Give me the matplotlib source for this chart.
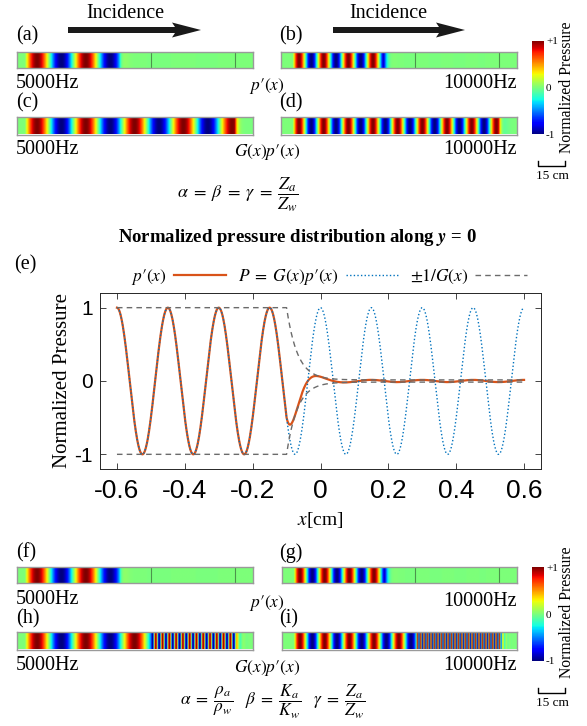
import numpy as np
import matplotlib
matplotlib.use("Agg")
import matplotlib.pyplot as plt
from matplotlib.patches import Polygon
from matplotlib.lines import Line2D
from matplotlib.cm import ScalarMappable
from matplotlib.colors import Normalize

plt.rcParams['font.family'] = ['Liberation Serif', 'DejaVu Serif']
plt.rcParams['mathtext.fontset'] = 'stix'
plt.rcParams['axes.unicode_minus'] = False

W, H = 587, 726

# ---------------- pressure strips (position along strip, cm) ----------------
strip_length = 130.0
freq_labels = ['5000Hz', '10000Hz']
wavelength_air = [26.9, 13.6]        # cm
wave_start = [4.3, 6.5]              # cm, where the incident wave begins
pprime_cut = 56.5                    # cm, end of the p'(x) wave region
layer_bounds = [74.0, 120.0]         # cm, second layer / absorbing end
layer_wavelength_ratio = 7.2         # wavelength shrink inside second layer
edge_decay = 1.5                     # cm

# ---------------- pressure along y = 0 ----------------
x_range = [-0.6, 0.6]
wavelength_line = 0.15
interface_x = -0.1
env_decay = 0.032
env_floor = 0.015
xticks = [-0.6, -0.4, -0.2, 0, 0.2, 0.4, 0.6]
xtick_labels = ['-0.6', '-0.4', '-0.2', '0', '0.2', '0.4', '0.6']
yticks = [-1, 0, 1]
ytick_labels = ['-1', '0', '1']
legend_labels = [r"$p\prime(x)$", r"$P\;=\;G(x)p\prime(x)$", r"$\pm1/G(x)$"]
c_orange, c_blue, c_gray = '#D95319', '#0072BD', '#6b6b6b'

fig = plt.figure(figsize=(W / 100, H / 100), dpi=100)


def px_axes(x0, y0, x1, y1):
    return fig.add_axes([x0 / W, 1 - y1 / H, (x1 - x0) / W, (y1 - y0) / H])


def ftext(x, y, s, **kw):
    kw.setdefault('va', 'center')
    return fig.text(x / W, 1 - y / H, s, **kw)


def fpt(x, y):
    return (x / W, 1 - y / H)


# ---- strip fields ----
s = np.linspace(0, strip_length, 1600)


def incident(i):
    k = 2 * np.pi / wavelength_air[i]
    f = np.where(s >= wave_start[i], np.sin(k * (s - wave_start[i])), 0.0)
    return f, k


def tail(pos, f):
    return np.where(s > pos, f * np.exp(-(s - pos) / edge_decay), f)


def field_pprime(i):
    f, _ = incident(i)
    return tail(pprime_cut, f)


def field_gp(i):
    f, _ = incident(i)
    return tail(layer_bounds[1], f)


def field_layered(i):
    f, k = incident(i)
    k2 = k * layer_wavelength_ratio
    ph0 = k * (layer_bounds[0] - wave_start[i])
    f2 = np.sin(ph0 + k2 * (s - layer_bounds[0]))
    f = np.where(s >= layer_bounds[0], f2, f)
    return tail(layer_bounds[1], f)


def strip(box, data, bounds=False):
    ax = px_axes(*box)
    ax.imshow(data[None, :], cmap='jet', vmin=-1, vmax=1, aspect='auto',
              extent=[0, strip_length, 0, 1], interpolation='bilinear')
    if bounds:
        for b in layer_bounds:
            ax.axvline(b, color='#4c944c', lw=0.8)
    ax.set_xticks([])
    ax.set_yticks([])
    for sp in ax.spines.values():
        sp.set_color('#9a9a9a')
        sp.set_linewidth(1.0)
    return ax


def colorbar(box, label_y):
    cax = px_axes(*box)
    sm = ScalarMappable(norm=Normalize(-1, 1), cmap='jet')
    cb = fig.colorbar(sm, cax=cax, ticks=[-1, 0, 1])
    cb.outline.set_visible(False)
    cb.ax.set_yticklabels(['-1', '0', '+1'])
    cb.ax.tick_params(length=0, pad=1.5, labelsize=8)
    ftext(567, label_y, 'Normalized Pressure', rotation=90, ha='center',
          fontsize=11.3)


def scale_bar(y_bar, y_text):
    x0, x1 = 538, 565
    pts = [fpt(x0, y_bar - 5), fpt(x0, y_bar), fpt(x1, y_bar), fpt(x1, y_bar - 5)]
    fig.add_artist(Line2D([p[0] for p in pts], [p[1] for p in pts],
                          transform=fig.transFigure, color='black', lw=1.0))
    ftext((x0 + x1) / 2 + 1, y_text, '15 cm', ha='center', fontsize=9.5)


def arrow(x0, x1, y):
    hl, hw, sw = 26, 7.5, 3
    verts = [(x0, y - sw), (x1 - hl, y - sw), (x1 - hl - 3, y - hw), (x1, y),
             (x1 - hl - 3, y + hw), (x1 - hl, y + sw), (x0, y + sw)]
    fig.add_artist(Polygon([fpt(*v) for v in verts], closed=True,
                           transform=fig.transFigure, facecolor='#1a1a1a',
                           edgecolor='none'))


# ---------------- top block ----------------
ftext(125, 14, 'Incidence', ha='center', fontsize=14.5)
ftext(388, 14, 'Incidence', ha='center', fontsize=14.5)
arrow(68, 201, 30)
arrow(333, 465, 30)

strip((17.3, 51.7, 253, 68.3), field_pprime(0), bounds=True)
strip((281, 51.7, 516.7, 68.3), field_pprime(1), bounds=True)
strip((17.3, 117.3, 253, 134.5), field_gp(0))
strip((281, 117.3, 516.7, 134.5), field_gp(1))

ftext(16, 36, '(a)', fontsize=14.5)
ftext(279, 36, '(b)', fontsize=14.5)
ftext(16, 103, '(c)', fontsize=14.5)
ftext(279, 103, '(d)', fontsize=14.5)
ftext(16, 83, freq_labels[0], fontsize=14.5)
ftext(517, 84, freq_labels[1], ha='right', fontsize=14.5)
ftext(16, 149, freq_labels[0], fontsize=14.5)
ftext(517, 149, freq_labels[1], ha='right', fontsize=14.5)
ftext(267, 86, r"$p\prime(x)$", ha='center', fontsize=12.5)
ftext(267, 152, r"$G(x)p\prime(x)$", ha='center', fontsize=12.5)
ftext(238, 195, r"$\alpha\;=\;\beta\;=\;\gamma\;=\;\dfrac{Z_a}{Z_w}$",
      ha='center', fontsize=13)

colorbar((531.7, 40.7, 544, 134.3), 87)
scale_bar(166, 176)

# ---------------- middle line chart ----------------
x = np.linspace(x_range[0], x_range[1], 2401)
p_prime = np.cos(2 * np.pi * x / wavelength_line)
envelope = np.where(x < interface_x, 1.0,
                    env_floor + (1 - env_floor) *
                    np.exp(-(x - interface_x) / env_decay))
P = envelope * p_prime

ax = px_axes(100, 293, 541, 469)
h_or, = ax.plot(x, P, color=c_orange, lw=1.6)
h_bl, = ax.plot(x, p_prime, color=c_blue, lw=1.0, ls=(0, (1, 1.6)))
h_gr, = ax.plot(x, envelope, color=c_gray, lw=1.0, ls=(0, (4, 3)))
ax.plot(x, -envelope, color=c_gray, lw=1.0, ls=(0, (4, 3)))
ax.set_xlim(-0.65, 0.65)
ax.set_ylim(-1.2, 1.2)
ax.set_xticks(xticks)
ax.set_xticklabels(xtick_labels, family='Liberation Sans', fontsize=19)
ax.set_yticks(yticks)
ax.set_yticklabels(ytick_labels, family='Liberation Sans', fontsize=15)
ax.tick_params(direction='in', top=True, right=True, length=4, width=0.6,
               color='#262626')
ax.tick_params(axis='x', pad=7)
ax.tick_params(axis='y', pad=5)
for sp in ax.spines.values():
    sp.set_linewidth(0.7)
    sp.set_color('#262626')
ax.set_ylabel('Normalized Pressure', fontsize=15, labelpad=2)
ax.set_xlabel(r'$x$[cm]', fontsize=14, labelpad=5)
ax.legend([h_or, h_bl, h_gr], legend_labels, loc='lower center',
          bbox_to_anchor=(0.52, 0.985), ncol=3, frameon=False,
          markerfirst=False, handlelength=3.0, handletextpad=0.4,
          columnspacing=0.7, fontsize=12.5, borderaxespad=0.1)

ftext(14, 265, '(e)', fontsize=14.5)
ftext(297, 237, r'Normalized pressure distribution along $\mathbfit{y}$ = 0',
      ha='center', fontsize=13.5, fontweight='bold')

# ---------------- bottom block ----------------
strip((17.3, 566.7, 253, 583.3), field_pprime(0), bounds=True)
strip((281.5, 566.7, 516.7, 583.3), field_pprime(1), bounds=True)
strip((17.3, 632.3, 253, 649.5), field_layered(0))
strip((281.5, 632.3, 516.7, 649.5), field_layered(1))

ftext(16, 553, '(f)', fontsize=14.5)
ftext(279, 553, '(g)', fontsize=14.5)
ftext(16, 619, '(h)', fontsize=14.5)
ftext(279, 619, '(i)', fontsize=14.5)
ftext(16, 600, freq_labels[0], fontsize=14.5)
ftext(517, 601, freq_labels[1], ha='right', fontsize=14.5)
ftext(16, 666, freq_labels[0], fontsize=14.5)
ftext(517, 666, freq_labels[1], ha='right', fontsize=14.5)
ftext(267, 603, r"$p\prime(x)$", ha='center', fontsize=12.5)
ftext(267, 668, r"$G(x)p\prime(x)$", ha='center', fontsize=12.5)
ftext(273, 702,
      r"$\alpha\;=\;\dfrac{\rho_a}{\rho_w}\quad\beta\;=\;\dfrac{K_a}{K_w}"
      r"\quad\gamma\;=\;\dfrac{Z_a}{Z_w}$",
      ha='center', fontsize=12.5)

colorbar((531.7, 567.3, 544, 660.7), 612)
scale_bar(693, 703)

fig.savefig('out.png', dpi=100, facecolor='white')
